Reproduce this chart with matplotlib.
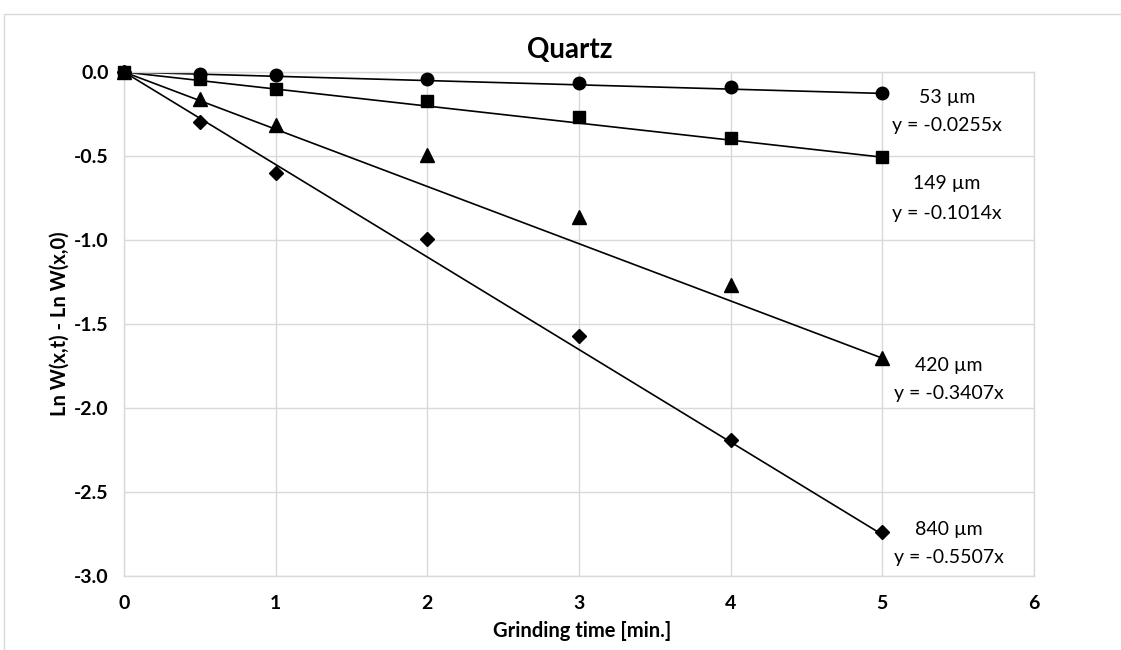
import matplotlib
matplotlib.use("Agg")
import matplotlib.pyplot as plt
from matplotlib.patches import Rectangle

plt.rcParams['font.family'] = ['Lato', 'DejaVu Sans']

# Data
times = [0, 0.5, 1, 2, 3, 4, 5]
y53 = [0.0, -0.01, -0.02, -0.04, -0.065, -0.09, -0.125]
y149 = [0.0, -0.04, -0.10, -0.17, -0.27, -0.39, -0.505]
y420 = [0.0, -0.16, -0.315, -0.495, -0.865, -1.27, -1.70]
y840 = [0.0, -0.30, -0.60, -0.995, -1.57, -2.19, -2.74]
slopes = [-0.0255, -0.1014, -0.3407, -0.5507]
sizes = ["53 µm", "149 µm", "420 µm", "840 µm"]
eq_labels = ["y = -0.0255x", "y = -0.1014x", "y = -0.3407x", "y = -0.5507x"]
xticks = [0, 1, 2, 3, 4, 5, 6]
yticks = [0.0, -0.5, -1.0, -1.5, -2.0, -2.5, -3.0]

W, H = 1121, 650
fig = plt.figure(figsize=(W / 100, H / 100), dpi=100)
fig.patch.set_facecolor('white')

# chart area border
fig.patches.append(Rectangle((4 / W, -0.2), 1.5, 1 - 14 / H + 0.2,
                             transform=fig.transFigure, fill=False,
                             edgecolor='#d9d9d9', linewidth=1.0))

ax = fig.add_axes([124 / W, 1 - 576 / H, (1034 - 124) / W, (576 - 72) / H])
ax.set_xlim(0, 6)
ax.set_ylim(-3.0, 0.0)
ax.set_xticks(xticks)
ax.set_yticks(yticks)
ax.set_xticklabels([str(v) for v in xticks], fontweight='bold', fontsize=14)
ax.set_yticklabels([f"{v:.1f}" for v in yticks], fontweight='bold', fontsize=14)
ax.tick_params(length=0, pad=11)
ax.tick_params(axis='x', pad=14)
ax.grid(True, color='#d9d9d9', linewidth=1.0)
ax.set_axisbelow(True)
for s in ax.spines.values():
    s.set_color('#d9d9d9')
    s.set_linewidth(1.0)

series = [y53, y149, y420, y840]
markers = ['o', 's', '^', 'D']
msizes = [9, 8, 9.5, 7.5]
for ys, m, ms, k in zip(series, markers, msizes, slopes):
    ax.plot(times, ys, linestyle='none', marker=m, markersize=ms,
            color='black', clip_on=False, zorder=3)
    ax.plot([0, 5], [0, k * 5], color='black', linewidth=1.2, zorder=2)

# labels near right end (pixel positions converted to data coords)
label_px = [(947, 97, 125), (947, 183, 213), (949, 366, 394), (949, 530, 558)]
def px_to_data(px, py):
    return ((px - 124) / (1034 - 124) * 6, -(py - 72) / (576 - 72) * 3)
for (px, py1, py2), sz, eq in zip(label_px, sizes, eq_labels):
    x1, yy1 = px_to_data(px, py1)
    x2, yy2 = px_to_data(px, py2)
    ax.text(x1, yy1, sz, ha='center', va='center', fontsize=14)
    ax.text(x2, yy2, eq, ha='center', va='center', fontsize=14)

fig.text(570 / W, 1 - 50 / H, "Quartz", ha='center', va='center',
         fontsize=20, fontweight='bold')
fig.text(582 / W, 1 - 631 / H, "Grinding time [min.]", ha='center', va='center',
         fontsize=14.5, fontweight='bold')
fig.text(60 / W, 1 - 324 / H, "Ln W(x,t) - Ln W(x,0)", ha='center', va='center',
         fontsize=14.5, fontweight='bold', rotation=90)

fig.savefig("out.png", dpi=100)
